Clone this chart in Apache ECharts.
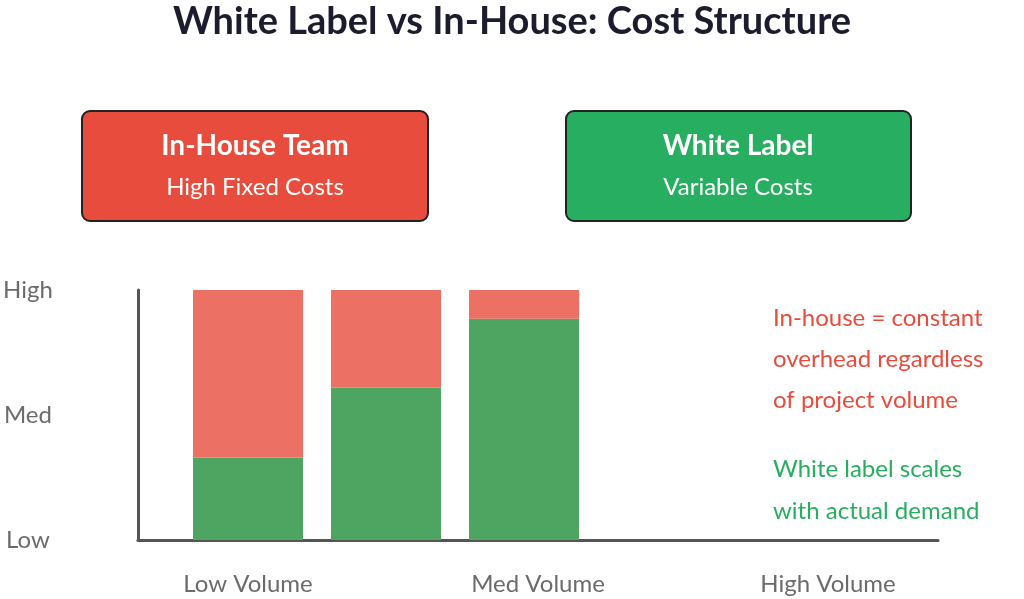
<!DOCTYPE html>
<html><head><meta charset="utf-8">
<script src="https://cdn.jsdelivr.net/npm/echarts@6/dist/echarts.min.js"></script>
<style>html,body{margin:0;padding:0;background:#fff}#c{width:1024px;height:599px}</style>
</head><body><div id="c"></div>
<script>
const barCats = ['b1','b2','b3'];
const whiteLabel = [0.66, 1.22, 1.77];
const inHouse = [1.34, 0.78, 0.23];
const xLabels = ['Low Volume','Med Volume','High Volume'];
const yLabels = ['Low','Med','High'];
const F = 'Lato, "Open Sans", sans-serif';
const chart = echarts.init(document.getElementById('c'));
chart.setOption({
  animation:false,
  title:{text:'White Label vs In-House: Cost Structure',left:'center',top:-2,
    textStyle:{fontSize:38,fontWeight:'bold',color:'#1c1c2e',fontFamily:F}},
  grid:[
    {left:179,right:431,top:290,bottom:59},
    {left:137,right:86,top:290,bottom:59},
    {left:103,right:51,top:290,bottom:59}
  ],
  xAxis:[
    {gridIndex:0,type:'category',data:barCats,show:false},
    {gridIndex:1,type:'category',data:['','',''],axisLine:{lineStyle:{color:'#555',width:3}},axisTick:{show:false},axisLabel:{show:false}},
    {gridIndex:2,type:'category',data:xLabels,axisLine:{show:false},axisTick:{show:false},
      axisLabel:{margin:32,fontSize:24,color:'#6b6b6b',fontFamily:F}}
  ],
  yAxis:[
    {gridIndex:0,type:'value',min:0,max:2,show:false},
    {gridIndex:1,type:'value',min:0,max:2,interval:1,splitLine:{show:false},
      axisLine:{show:true,lineStyle:{color:'#555',width:3}},axisTick:{show:false},
      axisLabel:{formatter:v=>yLabels[v],align:'center',margin:110,fontSize:24,color:'#6b6b6b',fontFamily:F}},
    {gridIndex:2,type:'value',min:0,max:2,show:false}
  ],
  series:[
    {type:'bar',stack:'s',xAxisIndex:0,yAxisIndex:0,data:whiteLabel,barWidth:110,itemStyle:{color:'#4ea562'}},
    {type:'bar',stack:'s',xAxisIndex:0,yAxisIndex:0,data:inHouse,barWidth:110,itemStyle:{color:'#ec7063'}}
  ],
  graphic:[
    {type:'rect',shape:{x:82,y:111,width:346,height:110,r:8},style:{fill:'#e74c3c',stroke:'#222',lineWidth:2}},
    {type:'text',style:{x:255,y:146,text:'In-House Team',align:'center',verticalAlign:'middle',fill:'#fff',font:'bold 28px '+F}},
    {type:'text',style:{x:255,y:187,text:'High Fixed Costs',align:'center',verticalAlign:'middle',fill:'#fff',font:'24px '+F}},
    {type:'rect',shape:{x:566,y:111,width:345,height:110,r:8},style:{fill:'#27ae60',stroke:'#222',lineWidth:2}},
    {type:'text',style:{x:738,y:146,text:'White Label',align:'center',verticalAlign:'middle',fill:'#fff',font:'bold 28px '+F}},
    {type:'text',style:{x:738,y:187,text:'Variable Costs',align:'center',verticalAlign:'middle',fill:'#fff',font:'24px '+F}},
    {type:'text',style:{x:773,y:318,text:'In-house = constant',verticalAlign:'middle',fill:'#e74c3c',font:'24px '+F}},
    {type:'text',style:{x:773,y:359,text:'overhead regardless',verticalAlign:'middle',fill:'#e74c3c',font:'24px '+F}},
    {type:'text',style:{x:773,y:400,text:'of project volume',verticalAlign:'middle',fill:'#e74c3c',font:'24px '+F}},
    {type:'text',style:{x:773,y:469,text:'White label scales',verticalAlign:'middle',fill:'#27ae60',font:'24px '+F}},
    {type:'text',style:{x:773,y:511,text:'with actual demand',verticalAlign:'middle',fill:'#27ae60',font:'24px '+F}}
  ]
});
</script></body></html>
